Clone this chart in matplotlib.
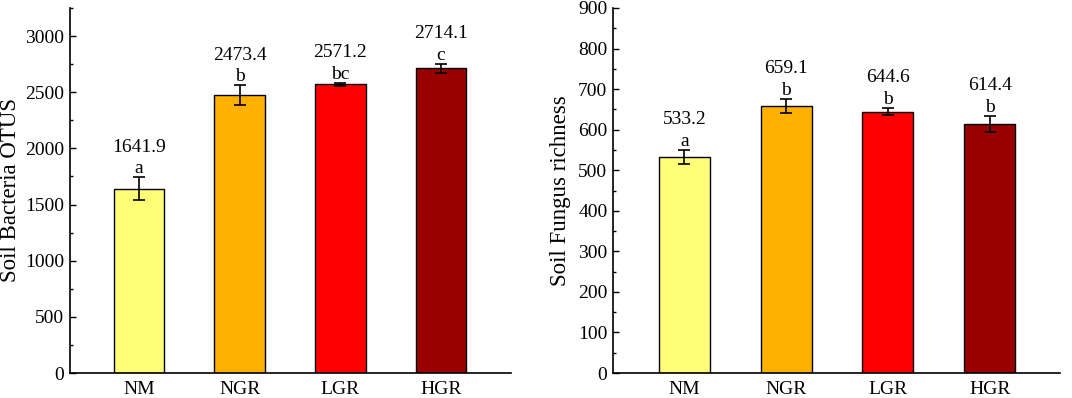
import matplotlib
matplotlib.use("Agg")
import matplotlib.pyplot as plt
from matplotlib.ticker import MultipleLocator

plt.rcParams['font.family'] = ['Liberation Serif', 'DejaVu Serif']

categories = ["NM", "NGR", "LGR", "HGR"]
colors = ["#FFFF77", "#FFB000", "#FF0000", "#990000"]

bacteria = [1641.9, 2473.4, 2571.2, 2714.1]
bacteria_err = [100, 88, 15, 40]
bacteria_letters = ["a", "b", "bc", "c"]

fungus = [533.2, 659.1, 644.6, 614.4]
fungus_err = [17, 17, 9, 20]
fungus_letters = ["a", "b", "b", "b"]

fig = plt.figure(figsize=(10.72, 3.98), dpi=100)
W, H = 1072, 398
ax1 = fig.add_axes([70 / W, 1 - 373 / H, 441 / W, 365 / H])
ax2 = fig.add_axes([613 / W, 1 - 373 / H, 447 / W, 365 / H])

def panel(ax, vals, errs, letters, ylabel, ymax, major, minor, xlim, labelpad):
    x = list(range(len(categories)))
    ax.bar(x, vals, width=0.5, color=colors, edgecolor="black", linewidth=1.0, zorder=2)
    ax.errorbar(x, vals, yerr=errs, fmt="none", ecolor="black", elinewidth=1.2,
                capsize=4, capthick=1.2, zorder=3)
    for xi, v, e, l in zip(x, vals, errs, letters):
        ax.annotate(l, (xi, v + e), xytext=(0, 0), textcoords="offset points",
                    ha="center", va="bottom", fontsize=14)
        ax.annotate(f"{v:.1f}", (xi, v + e), xytext=(0, 15.5), textcoords="offset points",
                    ha="center", va="bottom", fontsize=14)
    ax.set_xlim(*xlim)
    ax.set_ylim(0, ymax)
    ax.set_xticks(x)
    ax.set_xticklabels(categories)
    ax.yaxis.set_major_locator(MultipleLocator(major))
    ax.yaxis.set_minor_locator(MultipleLocator(minor))
    ax.tick_params(axis="y", which="major", direction="in", length=4, width=1, labelsize=14, pad=4)
    ax.tick_params(axis="y", which="minor", direction="in", length=2.5, width=1)
    ax.tick_params(axis="x", which="both", length=0, labelsize=14, pad=6)
    for s in ["top", "right"]:
        ax.spines[s].set_visible(False)
    for s in ["left", "bottom"]:
        ax.spines[s].set_linewidth(1.2)
    ax.set_ylabel(ylabel, fontsize=16.5, labelpad=labelpad)

panel(ax1, bacteria, bacteria_err, bacteria_letters, "Soil Bacteria OTUS",
      3250, 500, 250, (-0.685, 3.695), 3)
panel(ax2, fungus, fungus_err, fungus_letters, "Soil Fungus richness",
      900, 100, 50, (-0.70, 3.69), 5)

fig.savefig("out.png", dpi=100)
